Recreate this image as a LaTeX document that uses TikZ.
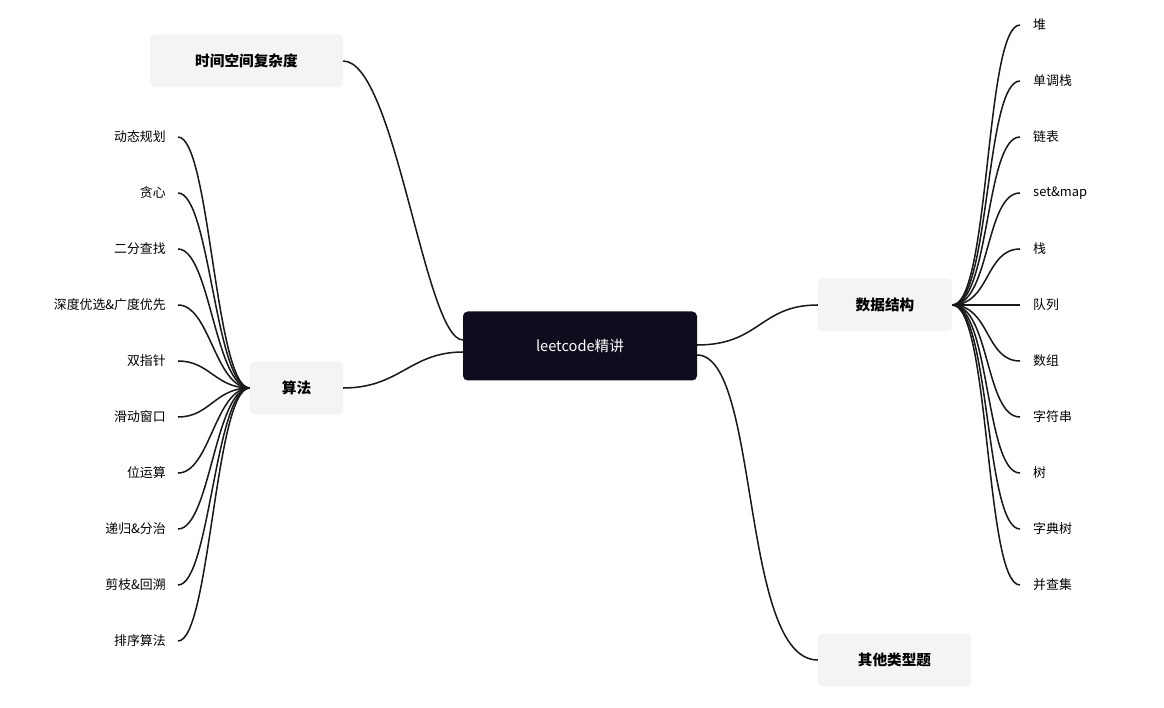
\documentclass[tikz,border=0pt]{standalone}
\usepackage{fontspec}
\setmainfont{Noto Sans CJK SC}
\begin{document}
\begin{tikzpicture}[x=0.03cm,y=-0.03cm,
  main/.style={fill=gray!9,rounded corners=4pt,minimum height=53*0.03cm,font=\fontsize{12.5}{14}\selectfont\bfseries,inner sep=0pt},
  leaf/.style={font=\fontsize{11}{13}\selectfont,inner sep=0pt},
  link/.style={line width=1.3pt,draw=black!90}]
\useasboundingbox (0,0) rectangle (1164,708);
\node[fill={rgb,255:red,16;green,12;blue,30},rounded corners=4pt,minimum width=234*0.03cm,minimum height=69*0.03cm,text=white,font=\fontsize{12.5}{14}\selectfont] (root) at (580,346) {leetcode精讲};
\node[main,minimum width=193*0.03cm] (t) at (246.5,61) {时间空间复杂度};
\node[main,minimum width=93*0.03cm] (a) at (296.5,388) {算法};
\node[main,minimum width=134*0.03cm] (d) at (885,305) {数据结构};
\node[main,minimum width=153*0.03cm] (o) at (894.5,660) {其他类型题};
\coordinate (rl1) at (463,340); \coordinate (rl2) at (463,352);
\coordinate (rr1) at (697,345); \coordinate (rr2) at (697,355);
\draw[link] (rl1) .. controls (425,340) and (395,61) .. (t.east);
\draw[link] (rl2) .. controls (410,352) and (400,388) .. (a.east);
\draw[link] (rr1) .. controls (760,345) and (760,305) .. (d.west);
\draw[link] (rr2) .. controls (760,355) and (740,660) .. (o.west);
\foreach \i/\txt in {0/动态规划,1/贪心,2/二分查找,3/深度优选\&广度优先,4/双指针,5/滑动窗口,6/位运算,7/递归\&分治,8/剪枝\&回溯,9/排序算法}{
  \pgfmathsetmacro\yy{137+56*\i}
  \node[leaf,anchor=east] (l\i) at (166,\yy) {\txt};
  \coordinate (le\i) at (178,\yy);
  \draw[link] (a.west) .. controls (215,388) and (210,\yy) .. (le\i);
}
\foreach \i/\txt in {0/堆,1/单调栈,2/链表,3/set\&map,4/栈,5/队列,6/数组,7/字符串,8/树,9/字典树,10/并查集}{
  \pgfmathsetmacro\yy{25+56*\i}
  \node[leaf,anchor=west] (r\i) at (1033,\yy) {\txt};
  \coordinate (re\i) at (1020,\yy);
  \draw[link] (d.east) .. controls (990,305) and (985,\yy) .. (re\i);
}
\end{tikzpicture}
\end{document}
